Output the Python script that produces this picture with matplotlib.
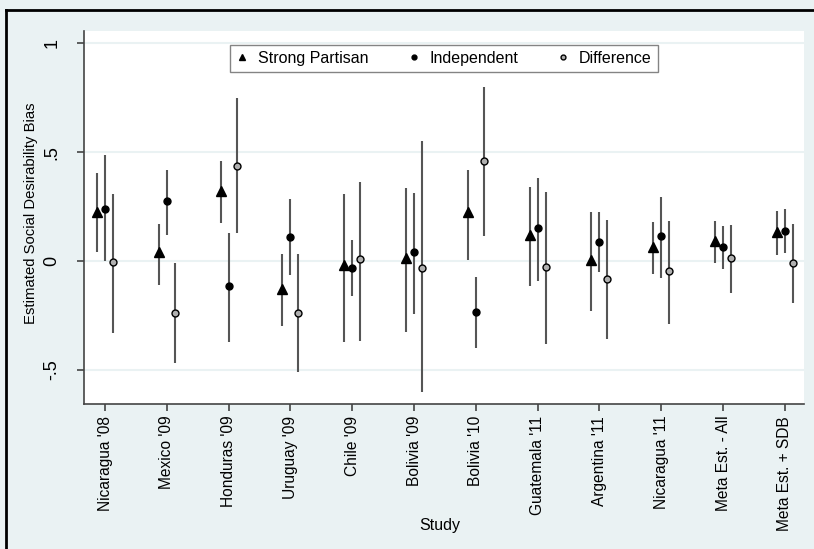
""" plot.py - social desirability bias estimates by study """

import matplotlib
matplotlib.use("Agg")
import matplotlib.pyplot as plt
from matplotlib.lines import Line2D
import numpy as np

plt.rcParams['font.family'] = ['Liberation Sans', 'DejaVu Sans']

studies = ["Nicaragua '08", "Mexico '09", "Honduras '09", "Uruguay '09", "Chile '09",
           "Bolivia '09", "Bolivia '10", "Guatemala '11", "Argentina '11",
           "Nicaragua '11", "Meta Est. - All", "Meta Est. + SDB"]

# strong partisan: estimate, lower, upper
partisan = [0.226, 0.040, 0.320, -0.128, -0.020, 0.012, 0.223, 0.119, 0.005, 0.063, 0.093, 0.134]
partisan_lo = [0.040, -0.110, 0.175, -0.300, -0.370, -0.324, 0.005, -0.115, -0.229, -0.060, -0.008, 0.028]
partisan_hi = [0.405, 0.170, 0.460, 0.030, 0.306, 0.333, 0.420, 0.338, 0.226, 0.180, 0.183, 0.231]

# independent
indep = [0.238, 0.275, -0.113, 0.110, -0.034, 0.043, -0.235, 0.153, 0.089, 0.115, 0.063, 0.138]
indep_lo = [0.000, 0.120, -0.370, -0.064, -0.160, -0.243, -0.400, -0.092, -0.049, -0.076, -0.038, 0.035]
indep_hi = [0.486, 0.420, 0.128, 0.284, 0.096, 0.313, -0.075, 0.379, 0.223, 0.295, 0.160, 0.237]

# difference
diff = [-0.005, -0.237, 0.437, -0.237, 0.008, -0.034, 0.459, -0.029, -0.084, -0.046, 0.012, -0.008]
diff_lo = [-0.330, -0.470, 0.130, -0.510, -0.367, -0.600, 0.116, -0.382, -0.360, -0.289, -0.148, -0.191]
diff_hi = [0.310, -0.010, 0.750, 0.030, 0.364, 0.550, 0.797, 0.318, 0.190, 0.183, 0.165, 0.168]

bg = '#eaf2f3'
fig = plt.figure(figsize=(8.14, 5.49), dpi=100, facecolor=bg)
ax = fig.add_axes([84/814, 1 - 404/549, 720/814, 373/549])

x = np.arange(1, len(studies) + 1)
off = 0.13

def draw(xs, est, lo, hi, marker, ms, face, lbl):
    est = np.array(est)
    err = [est - np.array(lo), np.array(hi) - est]
    ax.errorbar(xs, est, yerr=err, fmt='none', ecolor='#555555', elinewidth=1.5, capsize=0)
    ax.plot(xs, est, linestyle='none', marker=marker, ms=ms, mfc=face, mec='black',
            mew=1.0, label=lbl, zorder=3)

draw(x - off, partisan, partisan_lo, partisan_hi, '^', 7, 'black', 'Strong Partisan')
draw(x, indep, indep_lo, indep_hi, 'o', 5, 'black', 'Independent')
draw(x + off, diff, diff_lo, diff_hi, 'o', 5, '#b0b0b0', 'Difference')

ax.set_xlim(0.66, 12.31)
ax.set_ylim(-0.657, 1.0565)
ax.set_yticks([-0.5, 0, 0.5, 1])
ax.set_yticklabels(['-.5', '0', '.5', '1'], rotation=90, va='center', fontsize=13)
ax.set_xticks(x)
ax.set_xticklabels(studies, rotation=90, fontsize=11.2)
ax.grid(axis='y', color=bg, linewidth=1.5)
ax.set_axisbelow(True)
for s in ['top', 'right']:
    ax.spines[s].set_visible(False)
for s in ['left', 'bottom']:
    ax.spines[s].set_color('#444444')
    ax.spines[s].set_linewidth(1.2)
ax.tick_params(length=5, color='#444444', width=1.2)
ax.tick_params(axis='y', pad=12)

ax.set_ylabel('Estimated Social Desirability Bias', fontsize=10.7)
ax.set_xlabel('Study', fontsize=11.5)
ax.yaxis.set_label_coords(-0.064, 0.511)
ax.xaxis.set_label_coords(0.494, -0.305)

leg = ax.legend(loc='upper center', bbox_to_anchor=(0.5, 0.985), ncol=3, frameon=True,
                fancybox=False, edgecolor='#666666', fontsize=11.5, handletextpad=0.6,
                columnspacing=2.4, borderpad=0.4, markerscale=0.7, handlelength=0.8)
leg.get_frame().set_linewidth(1.0)

# outer frame (only top and left edges show in the crop)
fig.add_artist(Line2D([6/814, 1], [1 - 10/549, 1 - 10/549], color='black', lw=2, transform=fig.transFigure))
fig.add_artist(Line2D([6/814, 6/814], [0, 1 - 10/549], color='black', lw=2, transform=fig.transFigure))

fig.savefig('out.png', dpi=100, facecolor=bg)
